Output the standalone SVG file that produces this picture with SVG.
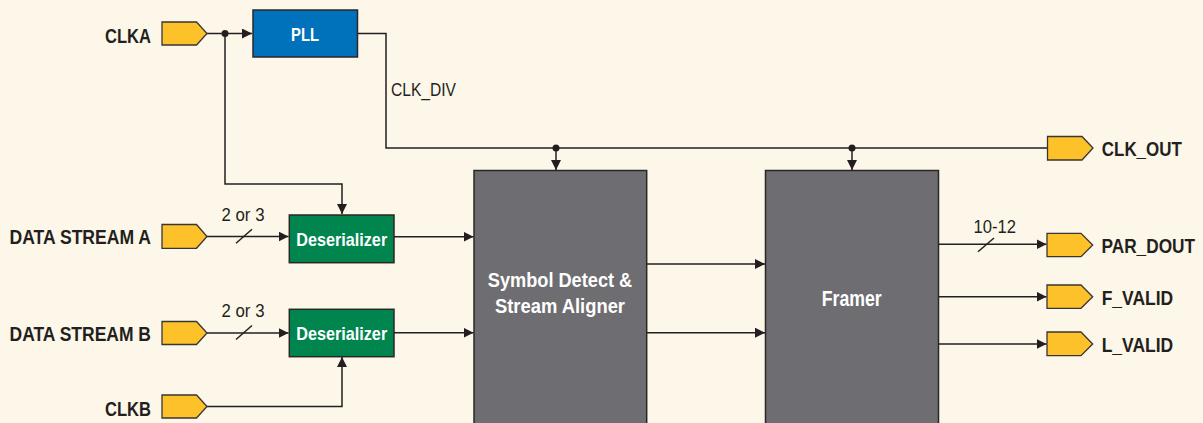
<svg xmlns="http://www.w3.org/2000/svg" width="1203" height="423" viewBox="0 0 1203 423">
<defs>
<marker id="arr" markerUnits="userSpaceOnUse" markerWidth="10" markerHeight="10" refX="10" refY="5" orient="auto">
<path d="M0,0 L10,5 L0,10 z" fill="#231F20"/>
</marker>
<style>
.bg{fill:#FDF7E9}
.ln{fill:none;stroke:#231F20;stroke-width:1.5}
.ar{marker-end:url(#arr)}
.dot{fill:#231F20}
.port{fill:#FDC12A;stroke:#3A3535;stroke-width:1.3}
.lbl{font-family:"Liberation Sans",Arial,sans-serif;font-weight:bold;font-size:21px;fill:#231F20}
.sm{font-family:"Liberation Sans",Arial,sans-serif;font-size:19px;fill:#231F20}
.wt{font-family:"Liberation Sans",Arial,sans-serif;font-weight:bold;fill:#FFFFFF;text-anchor:middle}
.blk{stroke:#2A2727;stroke-width:1.5}
</style>
</defs>
<rect class="bg" x="0" y="0" width="1203" height="423"/>

<g id="connectors">
<path class="ln ar" d="M207,33.5 H252"/>
<path class="ln ar" d="M225,33.5 V184 H342 V214"/>
<path class="ln" d="M357,33.5 H386 V148 H1047"/>
<path class="ln ar" d="M556,148 V170"/>
<path class="ln ar" d="M852,148 V170"/>
<path class="ln ar" d="M207,236.5 H288.5"/>
<path class="ln" d="M236,243.3 L252,229.3"/>
<path class="ln ar" d="M207,333 H288.5"/>
<path class="ln" d="M236,339.5 L252,325.5"/>
<path class="ln ar" d="M207,406.5 H342 V357"/>
<path class="ln ar" d="M394,236.7 H473.5"/>
<path class="ln ar" d="M394,332.7 H473.5"/>
<path class="ln ar" d="M647,264 H765"/>
<path class="ln ar" d="M647,332.7 H765"/>
<path class="ln ar" d="M939,244.3 H1046.5"/>
<path class="ln" d="M978,251.7 L994,238"/>
<path class="ln ar" d="M939,296.7 H1046.5"/>
<path class="ln ar" d="M939,344 H1046.5"/>
<circle class="dot" cx="225" cy="33.5" r="3.5"/>
<circle class="dot" cx="556" cy="148" r="3.5"/>
<circle class="dot" cx="852" cy="148" r="3.5"/>
<text class="sm" x="391" y="96" textLength="65" lengthAdjust="spacingAndGlyphs">CLK_DIV</text>
<text class="sm" x="221.5" y="220.7" textLength="43" lengthAdjust="spacingAndGlyphs">2 or 3</text>
<text class="sm" x="221.5" y="316.7" textLength="43" lengthAdjust="spacingAndGlyphs">2 or 3</text>
<text class="sm" x="973.5" y="232.7" textLength="42.5" lengthAdjust="spacingAndGlyphs">10-12</text>
</g>

<g id="clka">
<path class="port" d="M162,22 H196.5 L207,33.5 L196.5,45 H162 z"/>
<text class="lbl" x="105" y="43.3" textLength="46" lengthAdjust="spacingAndGlyphs">CLKA</text>
</g>
<g id="data-stream-a">
<path class="port" d="M162,224.5 H196.5 L207,236.5 L196.5,248.3 H162 z"/>
<text class="lbl" x="9.5" y="243.5" textLength="141.5" lengthAdjust="spacingAndGlyphs">DATA STREAM A</text>
</g>
<g id="data-stream-b">
<path class="port" d="M162,321.5 H196.5 L207,333 L196.5,344.5 H162 z"/>
<text class="lbl" x="9.5" y="340.5" textLength="141.5" lengthAdjust="spacingAndGlyphs">DATA STREAM B</text>
</g>
<g id="clkb">
<path class="port" d="M162,395 H196.5 L207,406.5 L196.5,418 H162 z"/>
<text class="lbl" x="105" y="415.5" textLength="46" lengthAdjust="spacingAndGlyphs">CLKB</text>
</g>

<g id="pll">
<rect class="blk" x="253" y="10" width="104.5" height="47" fill="#0072BC"/>
<text class="wt" x="305" y="41" font-size="19" textLength="28" lengthAdjust="spacingAndGlyphs">PLL</text>
</g>
<g id="deserializer-a">
<rect class="blk" x="289.3" y="215" width="104.7" height="47.7" fill="#00854F"/>
<text class="wt" x="341.7" y="245.5" font-size="19" textLength="91" lengthAdjust="spacingAndGlyphs">Deserializer</text>
</g>
<g id="deserializer-b">
<rect class="blk" x="289.3" y="309.3" width="104.7" height="47.4" fill="#00854F"/>
<text class="wt" x="341.7" y="339.5" font-size="19" textLength="91" lengthAdjust="spacingAndGlyphs">Deserializer</text>
</g>
<g id="symbol-detect">
<rect class="blk" x="474" y="170.5" width="172.7" height="270" fill="#6E6D72"/>
<text class="wt" x="560" y="286.7" font-size="21" textLength="144.5" lengthAdjust="spacingAndGlyphs">Symbol Detect &amp;</text>
<text class="wt" x="560" y="312.7" font-size="21" textLength="130" lengthAdjust="spacingAndGlyphs">Stream Aligner</text>
</g>
<g id="framer">
<rect class="blk" x="765.5" y="170.5" width="173" height="270" fill="#6E6D72"/>
<text class="wt" x="851.7" y="305.7" font-size="21.5" textLength="60" lengthAdjust="spacingAndGlyphs">Framer</text>
</g>

<g id="clk-out">
<path class="port" d="M1047.5,136.5 H1082 L1093,148 L1082,160 H1047.5 z"/>
<text class="lbl" x="1101.8" y="156" textLength="80" lengthAdjust="spacingAndGlyphs">CLK_OUT</text>
</g>
<g id="par-dout">
<path class="port" d="M1047,233.3 H1081 L1092.7,245 L1081,256.7 H1047 z"/>
<text class="lbl" x="1101.5" y="252.7" textLength="93.5" lengthAdjust="spacingAndGlyphs">PAR_DOUT</text>
</g>
<g id="f-valid">
<path class="port" d="M1047,285 H1081 L1092.7,296.7 L1081,308.3 H1047 z"/>
<text class="lbl" x="1101.7" y="304.5" textLength="71.5" lengthAdjust="spacingAndGlyphs">F_VALID</text>
</g>
<g id="l-valid">
<path class="port" d="M1047,332 H1081 L1092.7,344 L1081,355.7 H1047 z"/>
<text class="lbl" x="1101.7" y="351.7" textLength="71.5" lengthAdjust="spacingAndGlyphs">L_VALID</text>
</g>
</svg>
